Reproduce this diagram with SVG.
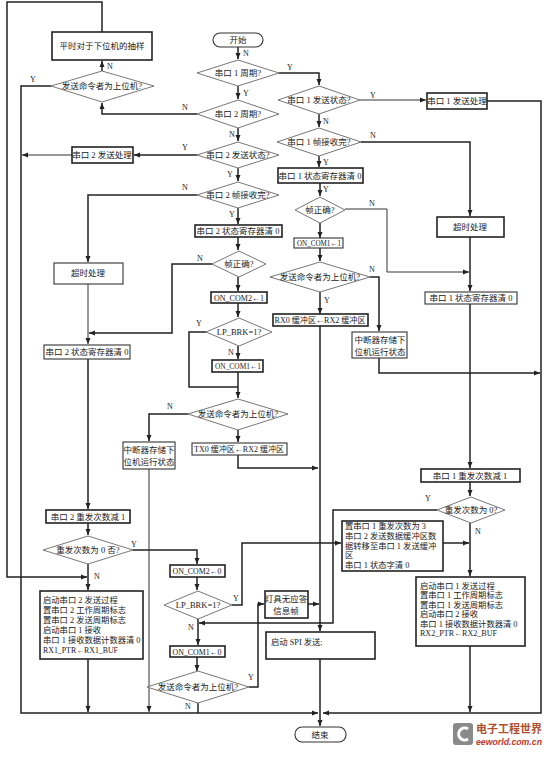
<svg xmlns="http://www.w3.org/2000/svg" width="550" height="758" viewBox="0 0 550 758">
<style>
.bx{fill:#fff;stroke:#222;stroke-width:1.6}
.bt{fill:#fff;stroke:#333;stroke-width:1.1}
.dm{fill:#fff;stroke:#777;stroke-width:1}
.c{fill:none;stroke:#222;stroke-width:1.5}
.ct{fill:none;stroke:#333;stroke-width:1}
.t{font-family:"Liberation Serif","Noto Sans CJK SC",serif;font-size:8.5px;fill:#222;text-anchor:middle}
.tl{font-family:"Liberation Serif","Noto Sans CJK SC",serif;font-size:8.3px;fill:#222}
.yn{font-family:"Liberation Serif",serif;font-size:8px;fill:#222;text-anchor:middle}
</style>
<defs>
<marker id="a" markerUnits="userSpaceOnUse" markerWidth="7" markerHeight="6" refX="6" refY="3" orient="auto">
<path d="M0,0.5 L6,3 L0,5.5 z" fill="#222"/>
</marker>
</defs>
<rect width="550" height="758" fill="#fff"/>

<g id="connectors">
<path class="c" d="M102,32 V2 H7 V577 H87" marker-end="url(#a)"/>
<path class="c" d="M102,71 V61" marker-end="url(#a)"/>
<path class="c" d="M51,86 H21 V713 H318" marker-end="url(#a)"/>
<path class="c" d="M197,114 H102 V103" marker-end="url(#a)"/>
<path class="c" d="M197,155 H134" marker-end="url(#a)"/>
<path class="ct" d="M72,155 H22" marker-end="url(#a)"/>
<path class="c" d="M197,195 H88 V262" marker-end="url(#a)"/>
<path class="ct" d="M88,284 V344" marker-end="url(#a)"/>
<path class="c" d="M212,264 H172 V333 H89" marker-end="url(#a)"/>
<path class="c" d="M88,359 V509" marker-end="url(#a)"/>
<path class="c" d="M88,523 V535" marker-end="url(#a)"/>
<path class="c" d="M133,550 H197 V564" marker-end="url(#a)"/>
<path class="c" d="M88,564 V590" marker-end="url(#a)"/>
<path class="c" d="M88,659 V712" marker-end="url(#a)"/>
<path class="ct" d="M149,469 V712" marker-end="url(#a)"/>
<path class="c" d="M188,414 H149 V441" marker-end="url(#a)"/>
<path class="c" d="M238,47 V59" marker-end="url(#a)"/>
<path class="c" d="M279,73 H319 V85" marker-end="url(#a)"/>
<path class="c" d="M238,86 V99" marker-end="url(#a)"/>
<path class="c" d="M238,128 V141" marker-end="url(#a)"/>
<path class="c" d="M238,168 V181" marker-end="url(#a)"/>
<path class="c" d="M238,208 V224" marker-end="url(#a)"/>
<path class="c" d="M238,237 V250" marker-end="url(#a)"/>
<path class="c" d="M238,277 V291" marker-end="url(#a)"/>
<path class="c" d="M238,303 V317" marker-end="url(#a)"/>
<path class="c" d="M238,346 V359" marker-end="url(#a)"/>
<path class="c" d="M206,332 H189 V387 H238"/>
<path class="c" d="M238,372 V398" marker-end="url(#a)"/>
<path class="c" d="M238,430 V442" marker-end="url(#a)"/>
<path class="c" d="M238,455 V468 H318" marker-end="url(#a)"/>
<path class="ct" d="M360,100 H426" marker-end="url(#a)"/>
<path class="c" d="M487,101 H541 V713 H323" marker-end="url(#a)"/>
<path class="c" d="M319,114 V127" marker-end="url(#a)"/>
<path class="c" d="M361,142 H470 V216" marker-end="url(#a)"/>
<path class="c" d="M319,156 V167" marker-end="url(#a)"/>
<path class="c" d="M320,183 V196" marker-end="url(#a)"/>
<path class="ct" d="M345,209 H387 V272 H469" marker-end="url(#a)"/>
<path class="c" d="M320,223 V238" marker-end="url(#a)"/>
<path class="c" d="M320,247 V261" marker-end="url(#a)"/>
<path class="c" d="M320,292 V314" marker-end="url(#a)"/>
<path class="c" d="M370,277 H379 V331" marker-end="url(#a)"/>
<path class="c" d="M379,358 V373 H540" marker-end="url(#a)"/>
<path class="c" d="M320,325 V631" marker-end="url(#a)"/>
<path class="c" d="M470,237 V291" marker-end="url(#a)"/>
<path class="c" d="M470,304 V468" marker-end="url(#a)"/>
<path class="c" d="M470,482 V496" marker-end="url(#a)"/>
<path class="c" d="M470,523 V576" marker-end="url(#a)"/>
<path class="c" d="M443,543 H469" marker-end="url(#a)"/>
<path class="c" d="M437,510 H333 V623 H199" marker-end="url(#a)"/>
<path class="c" d="M470,646 V712" marker-end="url(#a)"/>
<path class="c" d="M320,659 V726" marker-end="url(#a)"/>
<path class="c" d="M197,577 V590" marker-end="url(#a)"/>
<path class="c" d="M232,605 H242 V543 H341" marker-end="url(#a)"/>
<path class="c" d="M198,619 V645" marker-end="url(#a)"/>
<path class="c" d="M197,657 V671" marker-end="url(#a)"/>
<path class="c" d="M249,687 H258 V604 H264" marker-end="url(#a)"/>
<path class="c" d="M308,604 H319" marker-end="url(#a)"/>
<path class="c" d="M198,703 V713"/>
</g>

<g id="labels">
<text class="yn" x="110" y="69">N</text>
<text class="yn" x="33" y="82">Y</text>
<text class="yn" x="185" y="110">N</text>
<text class="yn" x="185" y="150">Y</text>
<text class="yn" x="185" y="190">N</text>
<text class="yn" x="246" y="56">N</text>
<text class="yn" x="290" y="70">Y</text>
<text class="yn" x="246" y="96">Y</text>
<text class="yn" x="232" y="137">N</text>
<text class="yn" x="230" y="177">Y</text>
<text class="yn" x="373" y="98">Y</text>
<text class="yn" x="326" y="124">N</text>
<text class="yn" x="373" y="138">N</text>
<text class="yn" x="326" y="165">Y</text>
<text class="yn" x="326" y="192">Y</text>
<text class="yn" x="232" y="217">Y</text>
<text class="yn" x="200" y="261">N</text>
<text class="yn" x="199" y="326">Y</text>
<text class="yn" x="231" y="355">N</text>
<text class="yn" x="372" y="206">N</text>
<text class="yn" x="372" y="272">N</text>
<text class="yn" x="327" y="303">Y</text>
<text class="yn" x="170" y="409">N</text>
<text class="yn" x="134" y="547">Y</text>
<text class="yn" x="97" y="579">N</text>
<text class="yn" x="428" y="501">Y</text>
<text class="yn" x="478" y="534">N</text>
<text class="yn" x="236" y="601">Y</text>
<text class="yn" x="191" y="630">N</text>
<text class="yn" x="251" y="680">Y</text>
<text class="yn" x="188" y="709">N</text>
</g>

<g id="start"><rect class="bt" x="213" y="33" width="50" height="14" rx="7"/><text class="t" x="238" y="43">开始</text></g>
<g id="sample"><rect class="bx" x="52" y="32" width="100" height="28"/><text class="t" x="102" y="49">平时对于下位机的抽样</text></g>
<g id="d_host_tl"><polygon class="dm" points="51,86 102,71 154,86 102,102"/><text class="t" x="102" y="89">发送命令者为上位机?</text></g>
<g id="d_p1cycle"><polygon class="dm" points="197,73 238,60 279,73 238,86"/><text class="t" x="238" y="76">串口 1 周期?</text></g>
<g id="d_p2cycle"><polygon class="dm" points="197,114 238,100 279,114 238,128"/><text class="t" x="238" y="117">串口 2 周期?</text></g>
<g id="d_p2send"><polygon class="dm" points="197,155 238,142 279,155 238,168"/><text class="t" x="238" y="158">串口 2 发送状态?</text></g>
<g id="p2sendproc"><rect class="bx" x="72" y="147" width="61" height="16"/><text class="t" x="102" y="158">串口 2 发送处理</text></g>
<g id="d_p2recv"><polygon class="dm" points="197,195 238,182 279,195 238,208"/><text class="t" x="238" y="198">串口 2 帧接收完?</text></g>
<g id="p2timeout"><rect class="bt" x="54" y="263" width="69" height="21"/><text class="t" x="88" y="276">超时处理</text></g>
<g id="p2clr_c"><rect class="bx" x="195" y="225" width="87" height="12"/><text class="t" x="238" y="234">串口 2 状态寄存器清 0</text></g>
<g id="d_frame_c"><polygon class="dm" points="212,264 239,251 266,264 239,277"/><text class="t" x="239" y="267">帧正确?</text></g>
<g id="oncom2_1"><rect class="bx" x="211" y="292" width="56" height="11"/><text class="t" x="239" y="301" textLength="50" lengthAdjust="spacingAndGlyphs">ON_COM2←1</text></g>
<g id="d_lpbrk_c"><polygon class="dm" points="206,332 239,318 272,332 239,346"/><text class="t" x="239" y="335">LP_BRK=1?</text></g>
<g id="oncom1_1c"><rect class="bx" x="212" y="360" width="51" height="12"/><text class="t" x="238" y="369" textLength="46" lengthAdjust="spacingAndGlyphs">ON_COM1←1</text></g>
<g id="d_host_c"><polygon class="dm" points="188,414 238,399 288,414 238,430"/><text class="t" x="238" y="417">发送命令者为上位机?</text></g>
<g id="tx0"><rect class="bt" x="192" y="443" width="95" height="12"/><text class="t" x="239" y="452" textLength="90" lengthAdjust="spacingAndGlyphs">TX0 缓冲区←RX2 缓冲区</text></g>
<g id="irq_l"><rect class="bt" x="123" y="442" width="52" height="27"/><text class="t" x="149" y="453">中断器存储下</text><text class="t" x="149" y="465">位机运行状态</text></g>
<g id="p2clr_l"><rect class="bt" x="44" y="345" width="86" height="14"/><text class="t" x="87" y="355">串口 2 状态寄存器清 0</text></g>
<g id="p2dec"><rect class="bx" x="46" y="510" width="84" height="13"/><text class="t" x="88" y="520">串口 2 重发次数减 1</text></g>
<g id="d_retry_l"><polygon class="dm" points="43,550 88,536 133,550 88,564"/><text class="t" x="88" y="553">重发次数为 0 否?</text></g>
<g id="start2"><rect class="bx" x="40" y="591" width="103" height="68"/>
<text class="tl" x="43" y="603">启动串口 2 发送过程</text>
<text class="tl" x="43" y="613">置串口 2 工作周期标志</text>
<text class="tl" x="43" y="623">置串口 2 发送周期标志</text>
<text class="tl" x="43" y="633">启动串口 1 接收</text>
<text class="tl" x="43" y="643">串口 1 接收数据计数器清 0</text>
<text class="tl" x="43" y="653" textLength="75" lengthAdjust="spacingAndGlyphs">RX1_PTR←RX1_BUF</text></g>
<g id="oncom2_0"><rect class="bx" x="170" y="565" width="55" height="12"/><text class="t" x="197" y="574" textLength="49" lengthAdjust="spacingAndGlyphs">ON_COM2←0</text></g>
<g id="d_lpbrk_l"><polygon class="dm" points="164,605 198,591 232,605 198,619"/><text class="t" x="198" y="608">LP_BRK=1?</text></g>
<g id="oncom1_0"><rect class="bx" x="170" y="646" width="55" height="11"/><text class="t" x="197" y="655" textLength="49" lengthAdjust="spacingAndGlyphs">ON_COM1←0</text></g>
<g id="d_host_l"><polygon class="dm" points="147,687 198,671 249,687 198,703"/><text class="t" x="198" y="690">发送命令者为上位机?</text></g>
<g id="noack"><rect class="bx" x="265" y="591" width="43" height="27"/><text class="t" x="286" y="602">灯具无应答</text><text class="t" x="286" y="614">信息帧</text></g>
<g id="spi"><rect class="bx" x="266" y="632" width="109" height="27"/><text class="tl" x="271" y="645">启动 SPI 发送;</text></g>
<g id="end"><rect class="bt" x="295" y="727" width="51" height="15" rx="7"/><text class="t" x="320" y="738">结束</text></g>
<g id="d_p1send"><polygon class="dm" points="278,100 319,86 360,100 319,114"/><text class="t" x="319" y="103">串口 1 发送状态?</text></g>
<g id="p1sendproc"><rect class="bx" x="427" y="93" width="60" height="16"/><text class="t" x="457" y="104">串口 1 发送处理</text></g>
<g id="d_p1recv"><polygon class="dm" points="277,142 319,128 361,142 319,156"/><text class="t" x="319" y="145">串口 1 帧接收完?</text></g>
<g id="p1clr_c"><rect class="bx" x="278" y="168" width="85" height="15"/><text class="t" x="320" y="179">串口 1 状态寄存器清 0</text></g>
<g id="d_frame_r"><polygon class="dm" points="295,210 320,197 345,210 320,223"/><text class="t" x="320" y="213">帧正确?</text></g>
<g id="oncom1_1r"><rect class="bt" x="294" y="238" width="49" height="10"/><text class="t" x="319" y="246" textLength="44" lengthAdjust="spacingAndGlyphs">ON_COM1←1</text></g>
<g id="d_host_r"><polygon class="dm" points="270,277 320,262 370,277 320,292"/><text class="t" x="320" y="280">发送命令者为上位机?</text></g>
<g id="rx0"><rect class="bx" x="273" y="314" width="95" height="12"/><text class="t" x="320" y="323" textLength="91" lengthAdjust="spacingAndGlyphs">RX0 缓冲区←RX2 缓冲区</text></g>
<g id="irq_r"><rect class="bt" x="352" y="332" width="55" height="26"/><text class="t" x="380" y="343">中断器存储下</text><text class="t" x="380" y="355">位机运行状态</text></g>
<g id="p1timeout"><rect class="bx" x="437" y="217" width="67" height="20"/><text class="t" x="470" y="230">超时处理</text></g>
<g id="p1clr_r"><rect class="bt" x="425" y="292" width="92" height="12"/><text class="t" x="471" y="301">串口 1 状态寄存器清 0</text></g>
<g id="p1dec"><rect class="bx" x="421" y="469" width="99" height="13"/><text class="t" x="470" y="479">串口 1 重发次数减 1</text></g>
<g id="d_retry_r"><polygon class="dm" points="437,510 471,497 505,510 471,523"/><text class="t" x="471" y="513">重发次数为 0?</text></g>
<g id="setp1"><rect class="bx" x="342" y="521" width="101" height="50"/>
<text class="tl" x="345" y="529">置串口 1 重发次数为 3</text>
<text class="tl" x="345" y="539">串口 2 发送数据缓冲区数</text>
<text class="tl" x="345" y="549">据转移至串口 1 发送缓冲</text>
<text class="tl" x="345" y="558">区</text>
<text class="tl" x="345" y="568">串口 1 状态字清 0</text></g>
<g id="start1"><rect class="bx" x="416" y="577" width="109" height="69"/>
<text class="tl" x="420" y="589">启动串口 1 发送过程</text>
<text class="tl" x="420" y="598">置串口 1 工作周期标志</text>
<text class="tl" x="420" y="608">置串口 1 发送周期标志</text>
<text class="tl" x="420" y="617">启动串口 2 接收</text>
<text class="tl" x="420" y="627">串口 1 接收数据计数器清 0</text>
<text class="tl" x="420" y="636" textLength="77" lengthAdjust="spacingAndGlyphs">RX2_PTR←RX2_BUF</text></g>

<g id="watermark">
<rect x="453" y="723" width="20" height="22" rx="3" fill="#8a8a8a"/>
<path d="M468,729 A6,6 0 1 0 468,739" fill="none" stroke="#fff" stroke-width="3"/>
<text x="476" y="733" font-family="'Noto Sans CJK SC',sans-serif" font-size="11px" font-weight="bold" fill="#b05030">电子工程世界</text>
<text x="476" y="745" font-family="'Liberation Sans',sans-serif" font-size="9.5px" font-style="italic" font-weight="bold" fill="#c0392b" textLength="66" lengthAdjust="spacingAndGlyphs">eeworld.com.cn</text>
</g>
</svg>
